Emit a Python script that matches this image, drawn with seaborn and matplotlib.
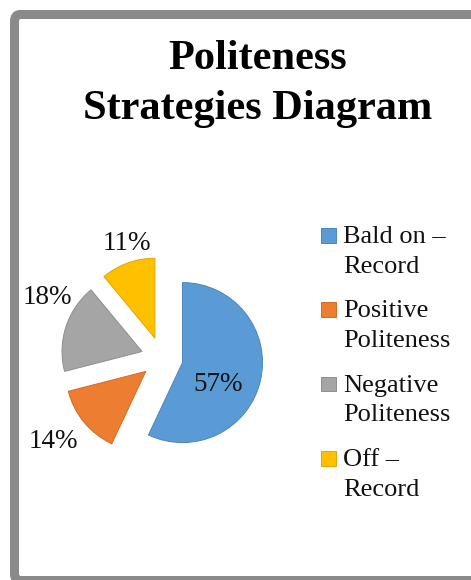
import matplotlib
matplotlib.use("Agg")
import matplotlib.pyplot as plt
import seaborn as sns
import numpy as np
from matplotlib.patches import FancyBboxPatch, Patch, Rectangle
from matplotlib.legend_handler import HandlerPatch

sns.set_theme(style="white")
plt.rcParams['font.family'] = ['Liberation Serif', 'DejaVu Serif']

# ---- data ----
categories = ["Bald on \u2013\nRecord", "Positive\nPoliteness", "Negative\nPoliteness", "Off \u2013\nRecord"]
values = [57, 14, 18, 11]
pct_labels = ["57%", "14%", "18%", "11%"]
colors = ["#5B9BD5", "#ED7D31", "#A5A5A5", "#FFC000"]
edge_colors = ["#4A86BF", "#D46A22", "#8E8E8E", "#E0A800"]

W, H = 471, 580
fig = plt.figure(figsize=(W / 100, H / 100), dpi=100)
fig.patch.set_facecolor("white")

# frame
frame = FancyBboxPatch((14.5 / W, -0.5 / H), (W + 30) / W, (H - 14.0) / H,
                       boxstyle="round,pad=0,rounding_size=0.012",
                       transform=fig.transFigure, facecolor="none",
                       edgecolor="#8A8A8A", linewidth=6.5, zorder=0)
fig.patches.append(frame)

ax = fig.add_axes([0, 0, 1, 1])
ax.axis("off")

cx, cy = 162, H - 358
R = 80
wedges, _ = ax.pie(values, colors=colors, startangle=90, counterclock=False,
                   explode=[21] * len(values), radius=R, center=(cx, cy),
                   wedgeprops=dict(linewidth=0.7), frame=False)
for w, ec in zip(wedges, edge_colors):
    w.set_edgecolor(ec)
ax.set_xlim(0, W)
ax.set_ylim(0, H)
ax.set_aspect("equal")

# label placement (angle in degrees, distance in radii from pie center)
label_layout = [(-25, 0.77), (-142.5, 1.71), (152, 1.62), (107, 1.50)]
for txt, (ang, d) in zip(pct_labels, label_layout):
    a = np.deg2rad(ang)
    ax.text(cx + d * R * np.cos(a), cy + d * R * np.sin(a), txt,
            ha="center", va="center", fontsize=19.5, color="#111111")

fig.text(258 / W, 1 - 84 / H, "Politeness\nStrategies Diagram", ha="center", va="center",
         fontsize=30.5, fontweight="bold", linespacing=1.42, color="black")


def top_square(legend, orig_handle, xdescent, ydescent, width, height, fontsize):
    s = 0.55 * fontsize
    return Rectangle((-xdescent, -ydescent + 0.62 * fontsize), s, s)


handles = [Patch(facecolor=c, edgecolor=ec, linewidth=0.7) for c, ec in zip(colors, edge_colors)]
leg = fig.legend(handles, categories, loc="upper left", bbox_to_anchor=(321 / W, 1 - 226 / H),
                 frameon=False, fontsize=19, handlelength=0.55, handleheight=0.55,
                 handletextpad=0.3, labelspacing=0.86, borderpad=0, borderaxespad=0,
                 handler_map={Patch: HandlerPatch(patch_func=top_square)})
for t in leg.get_texts():
    t.set_linespacing(1.45)
    t.set_color("#111111")

fig.savefig("out.png", dpi=100, facecolor="white")
